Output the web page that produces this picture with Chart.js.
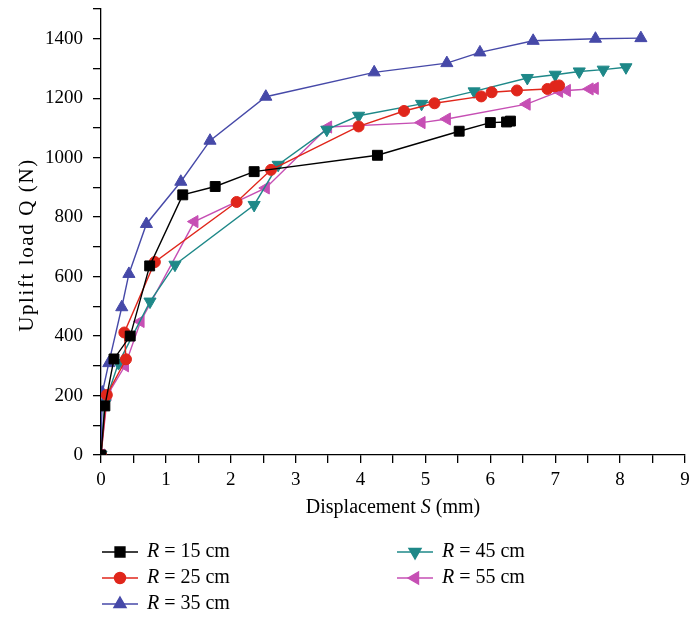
<!DOCTYPE html>
<html><head><meta charset="utf-8">
<script src="https://cdn.jsdelivr.net/npm/chart.js@4.4.1/dist/chart.umd.min.js"></script>
<style>html,body{margin:0;padding:0;background:#fff}</style>
</head><body>
<canvas id="c" width="690" height="620"></canvas>
<script>
// ---- data ----
const seriesNames = ['R = 15 cm', 'R = 25 cm', 'R = 35 cm', 'R = 45 cm', 'R = 55 cm'];
const r15S = [0, 0.06, 0.20, 0.45, 0.75, 1.26, 1.76, 2.36, 4.26, 5.52, 6.00, 6.25, 6.31];
const r15Q = [0, 165, 323, 400, 636, 875, 903, 953, 1008, 1089, 1118, 1120, 1123];
const r25S = [0, 0.09, 0.385, 0.36, 0.83, 2.09, 2.62, 3.97, 4.67, 5.14, 5.86, 6.02, 6.41, 6.88, 6.995, 7.06];
const r25Q = [0, 202, 322, 412, 649, 851, 959, 1105, 1157, 1183, 1206, 1220, 1226, 1231, 1240, 1243];
const r35S = [0, 0.02, 0.12, 0.32, 0.43, 0.70, 1.23, 1.68, 2.54, 4.21, 5.33, 5.84, 6.66, 7.62, 8.32];
const r35Q = [0, 210, 309, 497, 609, 777, 919, 1057, 1205, 1287, 1318, 1354, 1393, 1400, 1402];
const r45S = [0, 0.06, 0.27, 0.755, 1.14, 2.36, 2.73, 3.48, 3.97, 4.94, 5.75, 6.57, 7.00, 7.37, 7.74, 8.09];
const r45Q = [0, 174, 309, 516, 640, 841, 976, 1094, 1141, 1181, 1223, 1268, 1279, 1290, 1296, 1304];
const r55S = [0, 0.10, 0.37, 0.61, 1.44, 2.54, 3.50, 4.94, 5.33, 6.56, 7.06, 7.18, 7.53, 7.61];
const r55Q = [0, 202, 300, 449, 785, 898, 1103, 1118, 1130, 1180, 1223, 1226, 1231, 1233];
const xTicks = [0, 1, 2, 3, 4, 5, 6, 7, 8, 9];
const yTicks = [0, 200, 400, 600, 800, 1000, 1200, 1400];

const colors = ['#000000', '#e0261b', '#4649a8', '#1e8888', '#c64fb4'];
const styles = ['rect', 'circle', 'triangle', 'triangle', 'triangle'];
const rotations = [0, 0, 0, 180, 270];
const radii = [7, 5.5, 7, 7, 7];
const xs = [r15S, r25S, r35S, r45S, r55S];
const ys = [r15Q, r25Q, r35Q, r45Q, r55Q];

const FONT = "'Liberation Serif', 'Times New Roman', serif";

const datasets = seriesNames.map((name, i) => ({
  label: name,
  data: xs[i].map((x, j) => ({x: x, y: ys[i][j]})),
  showLine: true,
  borderColor: colors[i],
  backgroundColor: colors[i],
  borderWidth: 1.4,
  pointStyle: styles[i],
  pointRotation: rotations[i],
  pointRadius: radii[i],
  pointBorderWidth: 1,
  pointBorderColor: colors[i],
  pointBackgroundColor: colors[i],
  tension: 0
}));

const customText = {
  id: 'customText',
  afterDraw(chart) {
    const ctx = chart.ctx;
    const area = chart.chartArea;
    ctx.save();
    ctx.fillStyle = '#000';
    ctx.textBaseline = 'middle';
    // x-axis title with italic S
    const normal = '20px ' + FONT, ital = 'italic 20px ' + FONT;
    const parts = [['Displacement ', normal], ['S', ital], [' (mm)', normal]];
    let w = 0;
    parts.forEach(p => { ctx.font = p[1]; w += ctx.measureText(p[0]).width; });
    let x = (area.left + area.right) / 2 - w / 2;
    const ty = 508;
    ctx.textAlign = 'left';
    parts.forEach(p => { ctx.font = p[1]; ctx.fillText(p[0], x, ty); x += ctx.measureText(p[0]).width; });

    // y-axis title
    ctx.save();
    ctx.translate(27, 245);
    ctx.rotate(-Math.PI / 2);
    ctx.font = '21px ' + FONT;
    if ('letterSpacing' in ctx) ctx.letterSpacing = '1.6px';
    ctx.textAlign = 'center';
    ctx.fillText('Uplift load Q (N)', 0, 0);
    ctx.restore();

    // legend, two columns
    const pos = [[102, 552], [102, 578], [102, 604], [397, 552], [397, 578]];
    chart.data.datasets.forEach((ds, i) => {
      const [lx, ly] = pos[i];
      ctx.strokeStyle = ds.borderColor;
      ctx.lineWidth = 1.4;
      ctx.beginPath(); ctx.moveTo(lx, ly); ctx.lineTo(lx + 36, ly); ctx.stroke();
      ctx.fillStyle = ds.backgroundColor;
      Chart.helpers.drawPoint(ctx, {pointStyle: ds.pointStyle, rotation: ds.pointRotation,
        radius: ds.pointRadius, borderWidth: 1}, lx + 18, ly);
      ctx.fillStyle = '#000';
      const label = ds.label;
      let tx = lx + 45;
      ctx.textAlign = 'left';
      ctx.font = 'italic 20px ' + FONT;
      ctx.fillText(label[0], tx, ly);
      tx += ctx.measureText(label[0]).width;
      ctx.font = '20px ' + FONT;
      ctx.fillText(label.slice(1), tx, ly);
    });
    ctx.restore();
  }
};

new Chart(document.getElementById('c'), {
  type: 'scatter',
  data: {datasets},
  plugins: [customText],
  options: {
    responsive: false,
    animation: false,
    layout: {autoPadding: false, padding: {top: 9, right: 5, left: 0, bottom: 0}},
    plugins: {legend: {display: false}, tooltip: {enabled: false}},
    scales: {
      x: {
        type: 'linear', min: 0, max: 9,
        afterFit(scale) { scale.height = 165; scale.paddingLeft = 0; scale.paddingRight = 0; },
        border: {color: '#000', width: 1.3},
        grid: {drawOnChartArea: false, drawTicks: true, tickLength: 8, color: '#000', lineWidth: 1.3},
        ticks: {stepSize: 0.5, padding: 6, color: '#000', font: {family: FONT, size: 19},
          maxRotation: 0, autoSkip: false,
          callback: v => xTicks.includes(v) ? String(v) : ''}
      },
      y: {
        type: 'linear', min: 0, max: 1500,
        afterFit(scale) { scale.width = 101; scale.paddingTop = 0; scale.paddingBottom = 0; },
        border: {color: '#000', width: 1.3},
        grid: {drawOnChartArea: false, drawTicks: true, tickLength: 8, lineWidth: 1.3, color: '#000'},
        ticks: {stepSize: 100, padding: 10, color: '#000', font: {family: FONT, size: 19},
          autoSkip: false,
          callback: v => yTicks.includes(v) ? String(v) : ''}
      }
    }
  }
});
</script>
</body></html>
